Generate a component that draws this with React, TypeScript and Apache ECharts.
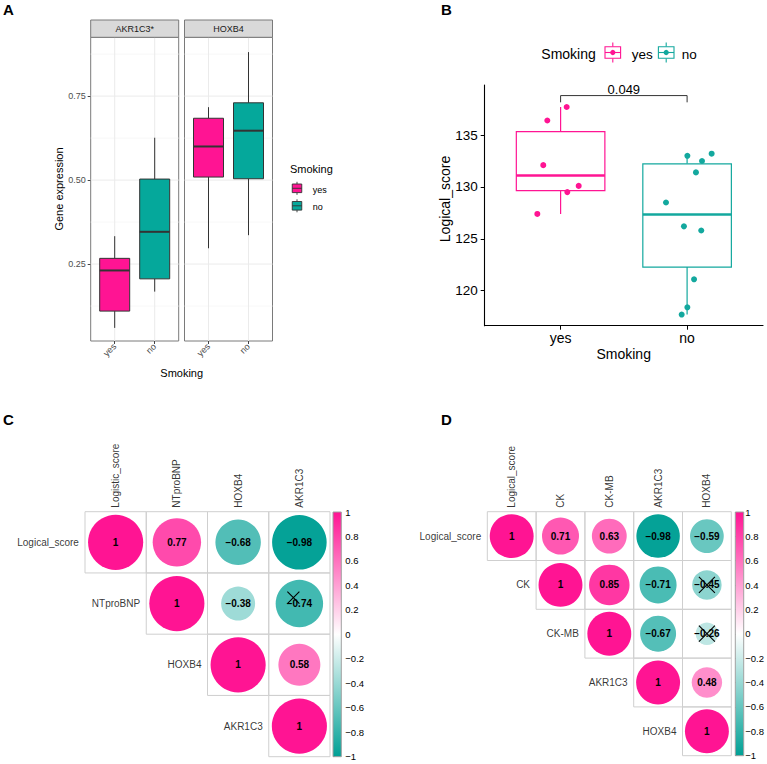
import React, { useEffect, useRef } from 'react';
import * as echarts from 'echarts';

const FONT = '"Liberation Sans", Arial, Helvetica, sans-serif';
const PINK = '#FF1493';
const TEAL = '#05A89B';
const CORR_TEAL = '#00A095';

// ---------- Panel A ----------
const smokingGroups = ['yes', 'no'];
const geneFacets = ['AKR1C3*', 'HOXB4'];
// [lower whisker, Q1, median, Q3, upper whisker] for yes / no
const akr1c3Stats = [
  [0.060, 0.110, 0.231, 0.267, 0.333],
  [0.168, 0.206, 0.346, 0.503, 0.626],
];
const hoxb4Stats = [
  [0.297, 0.509, 0.600, 0.684, 0.717],
  [0.336, 0.504, 0.647, 0.730, 0.881],
];
const geneTicks = [0.25, 0.5, 0.75];
const geneMinorBreaks = [0.125, 0.375, 0.625, 0.875];

// ---------- Panel B ----------
const scoreYes = [127.4, 136.4, 137.7, 132.1, 129.5, 130.1];
const jitterYes = [-0.184, -0.105, 0.048, -0.137, 0.053, 0.143];
const scoreNo = [128.5, 126.2, 125.8, 121.1, 118.4, 117.7, 133.0, 132.5, 131.4, 133.2];
const jitterNo = [-0.167, -0.025, 0.112, 0.055, 0.002, -0.043, 0.002, 0.118, 0.07, 0.194];
const scoreTicks = [120, 125, 130, 135];
const pLabel = '0.049';
const bracketLevels = [138.8, 138.15];

// ---------- Panel C ----------
const corrCRows = ['Logical_score', 'NTproBNP', 'HOXB4', 'AKR1C3'];
const corrCCols = ['Logistic_score', 'NTproBNP', 'HOXB4', 'AKR1C3'];
const corrC = [
  [1, 0.77, -0.68, -0.98],
  [null, 1, -0.38, -0.74],
  [null, null, 1, 0.58],
  [null, null, null, 1],
];
const corrCInsig = [[1, 3]];

// ---------- Panel D ----------
const corrDNames = ['Logical_score', 'CK', 'CK-MB', 'AKR1C3', 'HOXB4'];
const corrD = [
  [1, 0.71, 0.63, -0.98, -0.59],
  [null, 1, 0.85, -0.71, -0.45],
  [null, null, 1, -0.67, -0.26],
  [null, null, null, 1, 0.48],
  [null, null, null, null, 1],
];
const corrDInsig = [[1, 4], [2, 4]];

function q7(sorted: number[], p: number) {
  const h = (sorted.length - 1) * p;
  const lo = Math.floor(h);
  const hi = Math.min(lo + 1, sorted.length - 1);
  return sorted[lo] + (h - lo) * (sorted[hi] - sorted[lo]);
}
function boxStats(vals: number[]) {
  const s = [...vals].sort((a, b) => a - b);
  const q1 = q7(s, 0.25), md = q7(s, 0.5), q3 = q7(s, 0.75);
  const iqr = q3 - q1;
  const lo = Math.min(...s.filter((v) => v >= q1 - 1.5 * iqr));
  const hi = Math.max(...s.filter((v) => v <= q3 + 1.5 * iqr));
  return [lo, q1, md, q3, hi];
}

const fmtCorr = (v: number) => (v === 1 ? '1' : (v < 0 ? '\u2212' : '') + Math.abs(v).toFixed(2));
const fmtBar = (v: number) => {
  const r = Math.round(v * 10) / 10;
  if (r === 0) return '0';
  return (r < 0 ? '\u2212' : '') + String(Math.abs(r));
};

const makeBoxRender = (width: number, fills: string[] | null, strokes: string[], lw: number, medLw: number) =>
  (params: any, api: any) => {
    const x = api.value(0);
    const gi = api.value(6);
    const pLo = api.coord([x, api.value(1)]);
    const pQ1 = api.coord([x, api.value(2)]);
    const pMd = api.coord([x, api.value(3)]);
    const pQ3 = api.coord([x, api.value(4)]);
    const pHi = api.coord([x, api.value(5)]);
    const w = api.size([width, 0])[0];
    const cx = pMd[0];
    const stroke = strokes[gi];
    const fill = fills ? fills[gi] : '#FFFFFF';
    return {
      type: 'group',
      children: [
        { type: 'line', shape: { x1: cx, y1: pLo[1], x2: cx, y2: pQ1[1] }, style: { stroke, lineWidth: lw } },
        { type: 'line', shape: { x1: cx, y1: pQ3[1], x2: cx, y2: pHi[1] }, style: { stroke, lineWidth: lw } },
        { type: 'rect', shape: { x: cx - w / 2, y: pQ3[1], width: w, height: pQ1[1] - pQ3[1] }, style: { fill, stroke, lineWidth: lw } },
        { type: 'line', shape: { x1: cx - w / 2, y1: pMd[1], x2: cx + w / 2, y2: pMd[1] }, style: { stroke, lineWidth: medLw } },
      ],
    };
  };

function T(text: string, x: number, y: number, o: any = {}) {
  return {
    type: 'text', x, y, rotation: o.rot || 0, z: 20,
    style: {
      text, x: 0, y: 0, fill: o.color || '#000', fontSize: o.size || 10, fontFamily: FONT,
      fontWeight: o.weight || 'normal', align: o.align || 'center', verticalAlign: o.va || 'middle',
    },
  };
}

export default function App() {
  const ref = useRef<HTMLDivElement>(null);
  useEffect(() => {
    if (!ref.current) return;
    const chart = echarts.init(ref.current, null, { renderer: 'svg' });

    const grids = [
      { left: 90.7, top: 37.3, width: 88, height: 303.7, show: true, borderColor: '#7A7A7A', borderWidth: 1, backgroundColor: '#FFFFFF' },
      { left: 184.5, top: 37.3, width: 88, height: 303.7, show: true, borderColor: '#7A7A7A', borderWidth: 1, backgroundColor: '#FFFFFF' },
      { left: 484.7, top: 85, width: 278.3, height: 240.7 },
      { left: 85, top: 511.7, width: 245, height: 245 },
      { left: 333, top: 512, width: 8.3, height: 244.7 },
      { left: 487.3, top: 511.7, width: 244, height: 244 },
      { left: 735.3, top: 512, width: 8.4, height: 243.7 },
    ];

    const aX = (gi: number) => ({
      gridIndex: gi, type: 'value', min: 0.4, max: 2.6,
      axisLine: { show: false }, splitLine: { show: false },
      axisTick: { show: true, customValues: [1, 2], length: 3, lineStyle: { color: '#444' } },
      axisLabel: {
        customValues: [1, 2], formatter: (v: number) => smokingGroups[Math.round(v) - 1] || '',
        rotate: 45, fontSize: 9, color: '#4D4D4D', margin: 4, fontFamily: FONT,
      },
    });
    const hidden = (gi: number, n: number, inverse = false) => ({
      gridIndex: gi, type: 'value', min: -0.5, max: n - 0.5, show: false, inverse,
    });
    const barY = (gi: number) => ({
      gridIndex: gi, type: 'value', min: -1, max: 1, interval: 0.2, position: 'right',
      axisLine: { show: false }, splitLine: { show: false },
      axisTick: { show: true, length: 2, lineStyle: { color: '#555' } },
      axisLabel: { margin: 4, fontSize: 9.5, color: '#000', fontFamily: FONT, formatter: fmtBar, showMinLabel: true, showMaxLabel: true },
    });

    const xAxis = [
      aX(0), aX(1),
      {
        gridIndex: 2, type: 'value', min: 0.4, max: 2.6,
        axisLine: { show: true, lineStyle: { color: '#000', width: 1.1 } }, splitLine: { show: false },
        axisTick: { show: true, customValues: [1, 2], length: 4, lineStyle: { color: '#000' } },
        axisLabel: { customValues: [1, 2], formatter: (v: number) => smokingGroups[Math.round(v) - 1] || '', fontSize: 14, color: '#000', margin: 5, fontFamily: FONT },
      },
      hidden(3, 4),
      { gridIndex: 4, type: 'value', min: 0, max: 1, show: false },
      hidden(5, 5),
      { gridIndex: 6, type: 'value', min: 0, max: 1, show: false },
    ];
    const yAxis = [
      {
        gridIndex: 0, type: 'value', min: 0.021, max: 0.925,
        axisLine: { show: false }, splitLine: { show: false },
        axisTick: { show: true, customValues: geneTicks, length: 3, lineStyle: { color: '#444' } },
        axisLabel: { customValues: geneTicks, formatter: (v: number) => v.toFixed(2), fontSize: 9, color: '#4D4D4D', margin: 5, fontFamily: FONT },
      },
      {
        gridIndex: 1, type: 'value', min: 0.021, max: 0.925,
        axisLine: { show: false }, splitLine: { show: false }, axisTick: { show: false }, axisLabel: { show: false },
      },
      {
        gridIndex: 2, type: 'value', min: 116.63, max: 139.82,
        axisLine: { show: true, lineStyle: { color: '#000', width: 1.1 } }, splitLine: { show: false },
        axisTick: { show: true, customValues: scoreTicks, length: 4, lineStyle: { color: '#000' } },
        axisLabel: { customValues: scoreTicks, fontSize: 13.5, color: '#000', margin: 7, fontFamily: FONT },
      },
      hidden(3, 4, true),
      barY(4),
      hidden(5, 5, true),
      barY(6),
    ];

    const series: any[] = [];

    // Panel A gridlines
    [0, 1].forEach((gi) => {
      series.push({
        type: 'custom', xAxisIndex: gi, yAxisIndex: gi, silent: true, z: 1, clip: false,
        data: [
          ...geneTicks.map((v) => [0, v, 1]),
          ...geneMinorBreaks.map((v) => [0, v, 0]),
          ...[1, 2].map((v) => [1, v, 1]),
        ],
        encode: { x: 1, y: 1 },
        renderItem: (params: any, api: any) => {
          const cs = params.coordSys;
          const kind = api.value(0), v = api.value(1), major = api.value(2);
          const stroke = major ? '#EBEBEB' : '#F5F5F5';
          if (kind === 0) {
            const y = api.coord([1, v])[1];
            return { type: 'line', shape: { x1: cs.x, y1: y, x2: cs.x + cs.width, y2: y }, style: { stroke, lineWidth: major ? 1 : 0.8 } };
          }
          const x = api.coord([v, 0.5])[0];
          return { type: 'line', shape: { x1: x, y1: cs.y, x2: x, y2: cs.y + cs.height }, style: { stroke, lineWidth: 1 } };
        },
      });
    });
    // Panel A boxes
    [akr1c3Stats, hoxb4Stats].forEach((stats, gi) => {
      series.push({
        type: 'custom', xAxisIndex: gi, yAxisIndex: gi, silent: true, z: 3, clip: false,
        data: stats.map((s, i) => [i + 1, ...s, i]),
        encode: { x: 0, y: [1, 2, 3, 4, 5] },
        renderItem: makeBoxRender(0.75, [PINK, TEAL], ['#333333', '#333333'], 1, 2),
      });
    });

    // Panel B
    const bStats = [boxStats(scoreYes), boxStats(scoreNo)];
    series.push({
      type: 'custom', xAxisIndex: 2, yAxisIndex: 2, silent: true, z: 3, clip: false,
      data: bStats.map((s, i) => [i + 1, ...s, i]),
      encode: { x: 0, y: [1, 2, 3, 4, 5] },
      renderItem: makeBoxRender(0.7, null, [PINK, '#13A89E'], 1.2, 2.4),
    });
    series.push({
      type: 'scatter', xAxisIndex: 2, yAxisIndex: 2, z: 5, symbolSize: 6, silent: true,
      itemStyle: { color: PINK, opacity: 1 },
      data: scoreYes.map((v, i) => [1 + jitterYes[i], v]),
    });
    series.push({
      type: 'scatter', xAxisIndex: 2, yAxisIndex: 2, z: 5, symbolSize: 6, silent: true,
      itemStyle: { color: '#13A89E', opacity: 1 },
      data: scoreNo.map((v, i) => [2 + jitterNo[i], v]),
    });
    series.push({
      type: 'custom', xAxisIndex: 2, yAxisIndex: 2, silent: true, z: 6, clip: false,
      data: [[1, 2, bracketLevels[0], bracketLevels[1]]],
      encode: { x: [0, 1], y: [2, 3] },
      renderItem: (params: any, api: any) => {
        const a = api.coord([api.value(0), api.value(3)]);
        const b = api.coord([api.value(0), api.value(2)]);
        const c = api.coord([api.value(1), api.value(2)]);
        const d = api.coord([api.value(1), api.value(3)]);
        return {
          type: 'group',
          children: [
            { type: 'polyline', shape: { points: [a, b, c, d] }, style: { stroke: '#333', lineWidth: 1, fill: 'none' } },
            { type: 'text', style: { text: pLabel, x: (b[0] + c[0]) / 2, y: b[1] - 6.5, fontSize: 13, fontFamily: FONT, fill: '#000', align: 'center', verticalAlign: 'middle' } },
          ],
        };
      },
    });

    // Correlation panels
    const visualMaps: any[] = [];
    const addCorr = (gi: number, mat: (number | null)[][], rowNames: string[], colNames: string[], insig: number[][], cellPx: number, crossSize: number, crossOffset: number[]) => {
      const n = mat.length;
      const cells: number[][] = [];
      for (let r = 0; r < n; r++) for (let c = r; c < n; c++) cells.push([c, r, mat[r][c] as number]);
      series.push({
        type: 'custom', xAxisIndex: gi, yAxisIndex: gi, silent: true, z: 1, clip: false,
        data: cells.map((d) => [d[0], d[1]]),
        encode: { x: 0, y: 1 },
        renderItem: (params: any, api: any) => {
          const c = api.value(0), r = api.value(1);
          const p0 = api.coord([c - 0.5, r - 0.5]);
          const p1 = api.coord([c + 0.5, r + 0.5]);
          return {
            type: 'rect',
            shape: { x: Math.min(p0[0], p1[0]), y: Math.min(p0[1], p1[1]), width: Math.abs(p1[0] - p0[0]), height: Math.abs(p1[1] - p0[1]) },
            style: { fill: 'none', stroke: '#CFCFCF', lineWidth: 1 },
          };
        },
      });
      const circIdx = series.length;
      series.push({
        type: 'scatter', xAxisIndex: gi, yAxisIndex: gi, z: 2, silent: true,
        symbol: 'circle',
        symbolSize: (val: number[]) => cellPx * 0.9 * Math.sqrt(Math.abs(val[2])),
        itemStyle: { opacity: 1 },
        data: cells,
        label: {
          show: true, position: 'inside', formatter: (p: any) => fmtCorr(p.value[2]),
          color: '#000', fontWeight: 'bold', fontSize: 10, fontFamily: FONT,
        },
        emphasis: { disabled: true },
      });
      visualMaps.push({
        type: 'continuous', show: false, min: -1, max: 1, dimension: 2, seriesIndex: circIdx,
        inRange: { color: [CORR_TEAL, '#FFFFFF', PINK] },
      });
      series.push({
        type: 'scatter', xAxisIndex: gi, yAxisIndex: gi, z: 6, silent: true,
        symbol: 'path://M0,0L10,10M10,0L0,10', symbolSize: crossSize, symbolOffset: crossOffset,
        itemStyle: { color: 'none', borderColor: '#000', borderWidth: 1.1, opacity: 1 },
        data: insig.map(([r, c]) => [c, r]),
        emphasis: { disabled: true },
      });
      series.push({
        type: 'scatter', xAxisIndex: gi, yAxisIndex: gi, z: 4, silent: true,
        symbolSize: 0.1, itemStyle: { color: 'transparent' },
        data: rowNames.map((name, i) => ({ name, value: [i - 0.5, i] })),
        label: { show: true, position: 'left', distance: 6, formatter: '{b}', color: '#000', fontSize: 10, fontFamily: FONT },
        emphasis: { disabled: true },
      });
      series.push({
        type: 'scatter', xAxisIndex: gi, yAxisIndex: gi, z: 4, silent: true,
        symbolSize: 0.1, itemStyle: { color: 'transparent' },
        data: colNames.map((name, i) => ({ name, value: [i, -0.5] })),
        label: {
          show: true, position: 'top', distance: 4, rotate: 90, align: 'left', verticalAlign: 'middle',
          formatter: '{b}', color: '#000', fontSize: 10, fontFamily: FONT,
        },
        emphasis: { disabled: true },
      });
    };
    addCorr(3, corrC, corrCRows, corrCCols, corrCInsig, 61.25, 12, [-6, -6]);
    addCorr(5, corrD, corrDNames, corrDNames, corrDInsig, 48.8, 16, [0, 0]);

    const grad = () => new echarts.graphic.LinearGradient(0, 0, 0, 1, [
      { offset: 0, color: PINK }, { offset: 0.5, color: '#FFFFFF' }, { offset: 1, color: CORR_TEAL },
    ]);

    const boxKey = (cx: number, cy: number, fill: string, stroke: string, point: boolean, w: number, h: number, wh: number, lw: number) => ({
      type: 'group', z: 20,
      children: [
        { type: 'line', shape: { x1: cx, y1: cy - wh, x2: cx, y2: cy - h / 2 }, style: { stroke, lineWidth: lw } },
        { type: 'line', shape: { x1: cx, y1: cy + h / 2, x2: cx, y2: cy + wh }, style: { stroke, lineWidth: lw } },
        { type: 'rect', shape: { x: cx - w / 2, y: cy - h / 2, width: w, height: h }, style: { fill, stroke, lineWidth: lw } },
        { type: 'line', shape: { x1: cx - w / 2, y1: cy, x2: cx + w / 2, y2: cy }, style: { stroke, lineWidth: lw } },
        ...(point ? [{ type: 'circle', shape: { cx, cy, r: 2.6 }, style: { fill: stroke } }] : []),
      ],
    });

    const graphic: any[] = [
      T('A', 3, 9.3, { size: 15, weight: 'bold', align: 'left' }),
      T('B', 441, 9, { size: 15, weight: 'bold', align: 'left' }),
      T('C', 3, 419, { size: 15, weight: 'bold', align: 'left' }),
      T('D', 441, 419.7, { size: 15, weight: 'bold', align: 'left' }),
      // strips
      { type: 'rect', z: 15, shape: { x: 90.7, y: 20, width: 88, height: 17.3 }, style: { fill: '#D9D9D9', stroke: '#7A7A7A', lineWidth: 1 } },
      { type: 'rect', z: 15, shape: { x: 184.5, y: 20, width: 88, height: 17.3 }, style: { fill: '#D9D9D9', stroke: '#7A7A7A', lineWidth: 1 } },
      T(geneFacets[0], 134.7, 28.8, { size: 9, color: '#1A1A1A' }),
      T(geneFacets[1], 228.5, 28.8, { size: 9, color: '#1A1A1A' }),
      T('Gene expression', 58.5, 189, { size: 11, rot: Math.PI / 2 }),
      T('Smoking', 181.7, 372.5, { size: 11 }),
      // legend A
      T('Smoking', 290, 169, { size: 11, align: 'left' }),
      boxKey(297, 188.3, PINK, '#333333', false, 9.5, 8.6, 6.5, 0.9),
      boxKey(297, 205.8, TEAL, '#333333', false, 9.5, 8.6, 6.5, 0.9),
      T('yes', 312.7, 189.5, { size: 9, align: 'left' }),
      T('no', 312.7, 207, { size: 9, align: 'left' }),
      // B titles
      T('Logical_score', 444.7, 199, { size: 14, rot: Math.PI / 2 }),
      T('Smoking', 623.7, 354, { size: 14 }),
      // legend B
      T('Smoking', 541.3, 54.3, { size: 14, align: 'left' }),
      boxKey(612.8, 52.5, '#FFFFFF', PINK, true, 15.6, 11.6, 10, 1.1),
      boxKey(666.2, 52.5, '#FFFFFF', '#13A89E', true, 15.6, 11.6, 10, 1.1),
      T('yes', 631.7, 54.5, { size: 13.5, align: 'left' }),
      T('no', 681.7, 54.5, { size: 13.5, align: 'left' }),
      // colorbars
      { type: 'rect', z: 15, shape: { x: 333, y: 512, width: 8.3, height: 244.7 }, style: { fill: grad(), stroke: '#A0A0A0', lineWidth: 1 } },
      { type: 'rect', z: 15, shape: { x: 735.3, y: 512, width: 8.4, height: 243.7 }, style: { fill: grad(), stroke: '#A0A0A0', lineWidth: 1 } },
    ];

    chart.setOption({
      animation: false,
      backgroundColor: '#FFFFFF',
      textStyle: { fontFamily: FONT },
      grid: grids,
      xAxis,
      yAxis,
      visualMap: visualMaps,
      series,
      graphic,
    });
    return () => chart.dispose();
  }, []);
  return <div ref={ref} style={{ position: 'absolute', left: 0, top: 0, width: 767, height: 764, background: '#fff' }} />;
}
